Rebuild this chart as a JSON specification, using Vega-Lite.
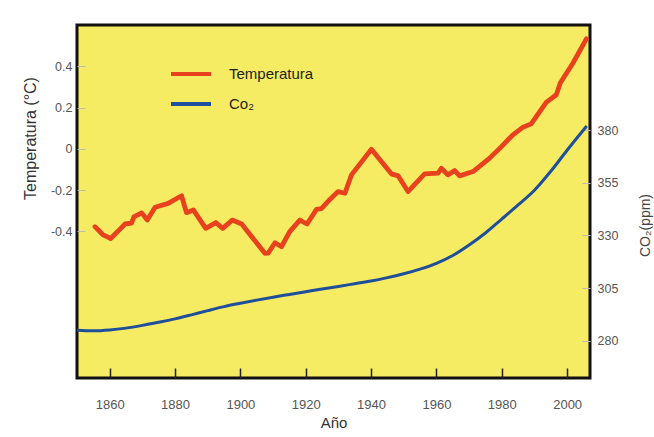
{
  "$schema": "https://vega.github.io/schema/vega-lite/v6.json",
  "width": 513,
  "height": 353,
  "autosize": {"type": "none"},
  "padding": {"left": 77, "top": 25, "right": 64, "bottom": 59},
  "background": "white",
  "config": {
    "font": "Liberation Sans",
    "view": {"fill": "#F5EC64", "stroke": "#111111", "strokeWidth": 3},
    "axis": {"domain": false, "grid": false, "labelFont": "Liberation Sans", "titleFont": "Liberation Sans", "titleFontWeight": "normal"}
  },
  "datasets": {
    "temp": [
      {"year": 1855.5, "temp": -0.377}, {"year": 1858, "temp": -0.417}, {"year": 1860.3, "temp": -0.434},
      {"year": 1863.1, "temp": -0.39}, {"year": 1864.7, "temp": -0.364}, {"year": 1866.7, "temp": -0.36},
      {"year": 1867.4, "temp": -0.33}, {"year": 1869.8, "temp": -0.31}, {"year": 1871.5, "temp": -0.345},
      {"year": 1873.9, "temp": -0.283}, {"year": 1877.9, "temp": -0.264}, {"year": 1882, "temp": -0.227},
      {"year": 1883.5, "temp": -0.309}, {"year": 1885.6, "temp": -0.296}, {"year": 1889.4, "temp": -0.385},
      {"year": 1892.5, "temp": -0.357}, {"year": 1894.6, "temp": -0.385}, {"year": 1897.5, "temp": -0.345},
      {"year": 1900.4, "temp": -0.364}, {"year": 1903.9, "temp": -0.434}, {"year": 1907.5, "temp": -0.506},
      {"year": 1908.5, "temp": -0.505}, {"year": 1910.6, "temp": -0.455}, {"year": 1912.6, "temp": -0.474},
      {"year": 1915.1, "temp": -0.401}, {"year": 1918.2, "temp": -0.345}, {"year": 1920.4, "temp": -0.364},
      {"year": 1923.3, "temp": -0.293}, {"year": 1924.8, "temp": -0.29}, {"year": 1927.4, "temp": -0.245},
      {"year": 1929.9, "temp": -0.207}, {"year": 1932, "temp": -0.215}, {"year": 1934, "temp": -0.126},
      {"year": 1940.1, "temp": -0.002}, {"year": 1946.2, "temp": -0.121}, {"year": 1948.3, "temp": -0.131},
      {"year": 1951.3, "temp": -0.207}, {"year": 1956.4, "temp": -0.121}, {"year": 1960.5, "temp": -0.118},
      {"year": 1961.5, "temp": -0.094}, {"year": 1963.5, "temp": -0.126}, {"year": 1965.6, "temp": -0.105},
      {"year": 1967.1, "temp": -0.131}, {"year": 1971.2, "temp": -0.11}, {"year": 1976.3, "temp": -0.045},
      {"year": 1979.9, "temp": 0.011}, {"year": 1983.4, "temp": 0.068}, {"year": 1986.5, "temp": 0.105},
      {"year": 1989, "temp": 0.121}, {"year": 1993.6, "temp": 0.225}, {"year": 1996.7, "temp": 0.262},
      {"year": 1997.9, "temp": 0.319}, {"year": 2001.8, "temp": 0.416}, {"year": 2005.9, "temp": 0.533}
    ],
    "co2": [
      {"year": 1850, "co2": 285.0}, {"year": 1855, "co2": 284.7}, {"year": 1860, "co2": 285.1},
      {"year": 1865, "co2": 286.0}, {"year": 1870, "co2": 287.3}, {"year": 1875, "co2": 288.8},
      {"year": 1880, "co2": 290.4}, {"year": 1885, "co2": 292.3}, {"year": 1890, "co2": 294.3},
      {"year": 1895, "co2": 296.2}, {"year": 1900, "co2": 297.8}, {"year": 1905, "co2": 299.3},
      {"year": 1910, "co2": 300.7}, {"year": 1915, "co2": 302.0}, {"year": 1920, "co2": 303.3},
      {"year": 1925, "co2": 304.6}, {"year": 1930, "co2": 305.8}, {"year": 1935, "co2": 307.1},
      {"year": 1940, "co2": 308.4}, {"year": 1945, "co2": 310.0}, {"year": 1950, "co2": 311.8},
      {"year": 1955, "co2": 314.0}, {"year": 1960, "co2": 316.8}, {"year": 1965, "co2": 320.5},
      {"year": 1970, "co2": 325.5}, {"year": 1975, "co2": 331.2}, {"year": 1980, "co2": 337.8},
      {"year": 1985, "co2": 344.5}, {"year": 1990, "co2": 351.5}, {"year": 1995, "co2": 360.5},
      {"year": 2000, "co2": 370.5}, {"year": 2006, "co2": 382.0}
    ]
  },
  "layer": [
    {
      "data": {"name": "temp"},
      "mark": {"type": "line", "strokeWidth": 4.8, "strokeJoin": "round", "strokeCap": "round"},
      "encoding": {
        "x": {
          "field": "year", "type": "quantitative",
          "scale": {"domain": [1850, 2007], "nice": false, "zero": false},
          "axis": {
            "values": [1860, 1880, 1900, 1920, 1940, 1960, 1980, 2000],
            "format": "d", "tickSize": -10, "tickColor": "#222222", "tickWidth": 1.5,
            "labelPadding": 30, "labelFontSize": 13, "labelColor": "#555555",
            "title": "Año", "titleFontSize": 15, "titleColor": "#333333", "titlePadding": 4
          }
        },
        "y": {
          "field": "temp", "type": "quantitative",
          "scale": {"domain": [-1.11, 0.6], "nice": false, "zero": false},
          "axis": {
            "values": [-0.4, -0.2, 0, 0.2, 0.4],
            "labelExpr": "'' + datum.value",
            "tickSize": -8, "tickColor": "#BBBBBB", "tickWidth": 1,
            "labelPadding": 13, "labelFontSize": 12.5, "labelColor": "#555555",
            "title": "Temperatura (°C)", "titleFontSize": 16, "titleColor": "#333333",
            "titleX": -47, "titleY": 113, "titleAngle": -90, "titleAlign": "center", "titleBaseline": "middle"
          }
        },
        "color": {
          "datum": "Temperatura", "type": "nominal",
          "scale": {"domain": ["Temperatura", "Co₂"], "range": ["#E8411D", "#1F4E9B"]},
          "legend": {
            "orient": "none", "legendX": 92, "legendY": 27, "title": null,
            "symbolType": "stroke", "symbolSize": 1600, "symbolStrokeWidth": 4,
            "labelFontSize": 15, "labelColor": "#222222", "labelOffset": 16, "rowPadding": -7
          }
        }
      }
    },
    {
      "data": {"name": "co2"},
      "mark": {"type": "line", "strokeWidth": 3, "interpolate": "monotone"},
      "encoding": {
        "x": {"field": "year", "type": "quantitative"},
        "y": {
          "field": "co2", "type": "quantitative",
          "scale": {"domain": [262.3, 430], "nice": false, "zero": false},
          "axis": {
            "orient": "right",
            "values": [280, 305, 330, 355, 380],
            "tickSize": -8, "tickColor": "#BBBBBB", "tickWidth": 1,
            "labelPadding": 15, "labelFontSize": 12.5, "labelColor": "#555555",
            "title": "CO₂(ppm)", "titleFontSize": 14, "titleColor": "#444444",
            "titleX": 55, "titleY": 200, "titleAngle": -90, "titleAlign": "center", "titleBaseline": "middle"
          }
        },
        "color": {"datum": "Co₂", "type": "nominal"}
      }
    }
  ],
  "resolve": {"scale": {"y": "independent"}}
}
